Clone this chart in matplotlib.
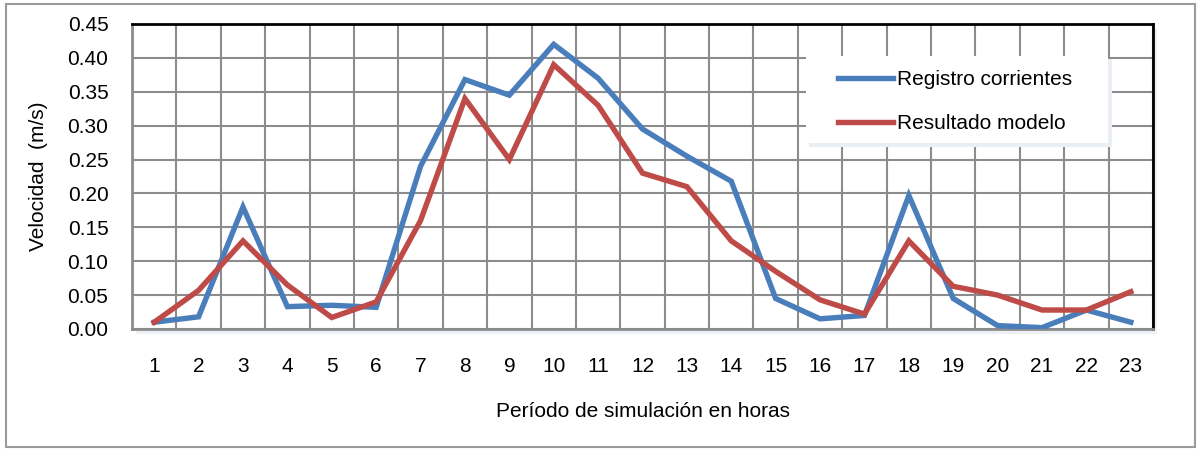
import numpy as np
import matplotlib

matplotlib.use("Agg")
import matplotlib.pyplot as plt
from matplotlib.patches import Rectangle

horas = list(range(1, 24))
registro = [0.010, 0.018, 0.180, 0.033, 0.035, 0.032, 0.240, 0.368, 0.345, 0.420,
            0.370, 0.295, 0.255, 0.218, 0.045, 0.015, 0.020, 0.197, 0.045, 0.005,
            0.002, 0.028, 0.010]
modelo = [0.010, 0.057, 0.130, 0.065, 0.017, 0.040, 0.160, 0.340, 0.250, 0.390,
          0.330, 0.230, 0.210, 0.130, 0.085, 0.043, 0.022, 0.130, 0.063, 0.050,
          0.028, 0.028, 0.055]
y_ticks = [0.00, 0.05, 0.10, 0.15, 0.20, 0.25, 0.30, 0.35, 0.40, 0.45]

plt.rcParams["font.family"] = ["Liberation Sans", "DejaVu Sans"]

W, H = 1201, 451


def fig_box(x0, y0, x1, y1):
    # pixel box (top-left origin) -> figure fraction rect
    return (x0 / W, 1 - y1 / H), (x1 - x0) / W, (y1 - y0) / H


fig = plt.figure(figsize=(W / 100, H / 100), dpi=100)

# outer frame
xy, w, h = fig_box(6, 4, 1195, 447)
fig.patches.append(Rectangle(xy, w, h, transform=fig.transFigure, fill=False,
                             edgecolor="#9a9a9a", linewidth=1.5, zorder=2))
# soft shadow under plot area
xy, w, h = fig_box(136, 28, 1157, 334)
fig.patches.append(Rectangle(xy, w, h, transform=fig.transFigure,
                             facecolor="#edf1f6", edgecolor="none", zorder=-1))

ax = fig.add_axes([132 / W, 1 - 329 / H, 1021 / W, 305 / H])

x = np.array(horas)
ax.plot(x, registro, color="#4a7ebb", linewidth=3.9, label="Registro corrientes",
        solid_joinstyle="miter", zorder=3)
ax.plot(x, modelo, color="#be4b48", linewidth=3.9, label="Resultado modelo",
        solid_joinstyle="miter", zorder=3)

ax.set_xlim(0.5, 23.5)
ax.set_ylim(0, 0.45)
ax.set_xticks(x)
ax.set_xticklabels([str(h) for h in horas])
ax.set_xticks(np.arange(0.5, 24, 1), minor=True)
ax.set_yticks(y_ticks)
ax.set_yticklabels([f"{v:.2f}" for v in y_ticks])

ax.grid(True, which="minor", axis="x", color="#8c8c8c", linewidth=1.5)
ax.grid(True, which="major", axis="y", color="#8c8c8c", linewidth=1.5)
ax.set_axisbelow(True)
ax.tick_params(axis="both", which="both", length=0, labelsize=15)
ax.tick_params(axis="x", pad=20)
ax.tick_params(axis="y", pad=17)

for side in ["left", "bottom"]:
    ax.spines[side].set_color("#8c8c8c")
    ax.spines[side].set_linewidth(2)
for side in ["top", "right"]:
    ax.spines[side].set_color("black")
    ax.spines[side].set_linewidth(2)

ax.set_xlabel("Período de simulación en horas", fontsize=15, labelpad=19)
ax.set_ylabel("Velocidad  (m/s)", fontsize=15, labelpad=14)

# legend box with shadow
xy, w, h = fig_box(809, 59, 1112, 147)
ax.add_patch(Rectangle(xy, w, h, transform=fig.transFigure,
                       facecolor="#eaeff6", edgecolor="none", zorder=4))
xy, w, h = fig_box(806, 56, 1108, 143)
ax.add_patch(Rectangle(xy, w, h, transform=fig.transFigure,
                       facecolor="white", edgecolor="none", zorder=4))

leg = ax.legend(loc="upper left", bbox_to_anchor=(838 / W, 1 - 70 / H),
                bbox_transform=fig.transFigure, frameon=False, fontsize=15,
                handlelength=2.64, handletextpad=0.2, labelspacing=1.2,
                borderpad=0, borderaxespad=0)
leg.set_zorder(5)
for line in leg.get_lines():
    line.set_linewidth(3.9)

plt.savefig("out.png", dpi=100)
plt.close()
